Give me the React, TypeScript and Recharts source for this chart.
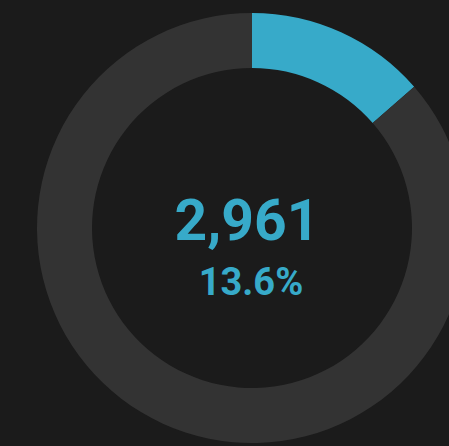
import { PieChart, Pie, Cell } from 'recharts';

// single-value donut: share of total, value + percent in the hole
const sliceNames = ['Selected', 'Rest'];
const sliceValues = [2961, 18811];
const sliceColors = ['#37aac9', '#333333'];

const data = sliceNames.map((name, i) => ({ name, value: sliceValues[i] }));
const total = sliceValues.reduce((a, b) => a + b, 0);
const pct = ((sliceValues[0] / total) * 100).toFixed(1) + '%';

const CX = 252;
const CY = 228;

export default function App() {
  return (
    <div style={{ position: 'absolute', left: 0, top: 0, width: 449, height: 446, background: '#1b1b1b', overflow: 'hidden' }}>
      <PieChart width={449} height={446} margin={{ top: 0, right: 0, bottom: 0, left: 0 }}>
        <Pie
          data={data}
          dataKey="value"
          cx={CX}
          cy={CY}
          innerRadius={160}
          outerRadius={215}
          startAngle={90}
          endAngle={-270}
          stroke="none"
          isAnimationActive={false}
        >
          {data.map((d, i) => <Cell key={d.name} fill={sliceColors[i]} />)}
        </Pie>
      </PieChart>
      <svg width={449} height={446} style={{ position: 'absolute', left: 0, top: 0, pointerEvents: 'none' }}>
        <g fontFamily="Roboto, sans-serif" fontWeight={700} fill="#37aac9" textAnchor="middle">
          <text x={CX - 5} y={CY + 12} fontSize={57}>{sliceValues[0].toLocaleString('en-US')}</text>
          <text x={CX - 1} y={CY + 67} fontSize={38}>{pct}</text>
        </g>
      </svg>
    </div>
  );
}
